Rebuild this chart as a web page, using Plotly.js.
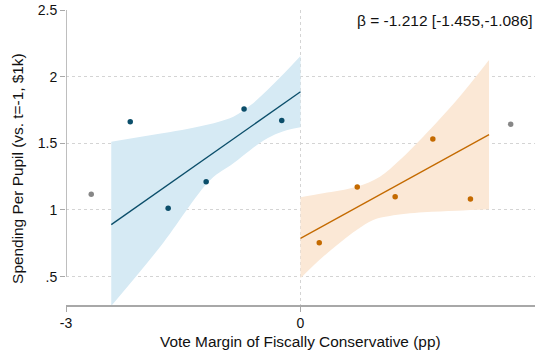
<!DOCTYPE html>
<html>
<head>
<meta charset="utf-8">
<script src="https://cdn.plot.ly/plotly-3.0.1.min.js"></script>
<style>html,body{margin:0;padding:0;background:#fff;}#chart{width:535px;height:355px;}</style>
</head>
<body>
<div id="chart"></div>
<script>
// Binned points left of cutoff (inside bandwidth)
const leftX = [-2.178, -1.693, -1.207, -0.722, -0.240];
const leftY = [1.662, 1.012, 1.212, 1.757, 1.672];
// Binned points right of cutoff (inside bandwidth)
const rightX = [0.240, 0.726, 1.211, 1.693, 2.174];
const rightY = [0.754, 1.172, 1.099, 1.532, 1.082];
// Points outside bandwidth
const outX = [-2.677, 2.689];
const outY = [1.117, 1.643];
// Linear fits
const leftFitX = [-2.421, 0];
const leftFitY = [0.890, 1.887];
const rightFitX = [0, 2.412];
const rightFitY = [0.787, 1.565];
// Confidence bands
const leftUpX = [-2.421, -1.923, -1.282, -0.859, -0.641, -0.423, -0.218, 0];
const leftUpY = [1.512, 1.560, 1.628, 1.700, 1.785, 1.900, 2.020, 2.155];
const leftLoX = [-2.421, -1.795, -1.154, -0.859, -0.641, -0.423, -0.218, 0];
const leftLoY = [0.280, 0.724, 1.225, 1.350, 1.450, 1.537, 1.590, 1.620];
const rightUpX = [0, 0.291, 0.718, 1.016, 1.271, 1.570, 2.000, 2.412];
const rightUpY = [1.095, 1.125, 1.174, 1.250, 1.375, 1.550, 1.825, 2.125];
const rightLoX = [0, 0.291, 0.718, 0.930, 1.143, 1.570, 2.000, 2.412];
const rightLoY = [0.487, 0.650, 0.850, 0.925, 0.955, 0.982, 0.994, 1.005];
// Ticks
const yTickVals = [0.5, 1, 1.5, 2, 2.5];
const yTickText = [".5", "1", "1.5", "2", "2.5"];
const xTickVals = [-3, 0, 3];
const xTickText = ["-3", "0", "3"];
const betaText = "β = -1.212 [-1.455,-1.086]";

const blueFill = "rgb(214,234,244)";
const orangeFill = "rgb(251,232,214)";
const blue = "rgb(11,78,106)";
const orange = "rgb(196,106,0)";
const gray = "rgb(135,135,135)";

const smooth = {width: 0, shape: "spline", smoothing: 1};
const traces = [
  {x: leftLoX, y: leftLoY, type: "scatter", mode: "lines", line: smooth, hoverinfo: "skip"},
  {x: leftUpX, y: leftUpY, type: "scatter", mode: "lines", fill: "tonexty", fillcolor: blueFill, line: smooth, hoverinfo: "skip"},
  {x: rightLoX, y: rightLoY, type: "scatter", mode: "lines", line: smooth, hoverinfo: "skip"},
  {x: rightUpX, y: rightUpY, type: "scatter", mode: "lines", fill: "tonexty", fillcolor: orangeFill, line: smooth, hoverinfo: "skip"},
  {x: leftFitX, y: leftFitY, type: "scatter", mode: "lines", line: {color: blue, width: 1.3}},
  {x: rightFitX, y: rightFitY, type: "scatter", mode: "lines", line: {color: orange, width: 1.3}},
  {x: leftX, y: leftY, type: "scatter", mode: "markers", marker: {color: blue, size: 5.5}},
  {x: rightX, y: rightY, type: "scatter", mode: "markers", marker: {color: orange, size: 5.5}},
  {x: outX, y: outY, type: "scatter", mode: "markers", marker: {color: gray, size: 5.5}}
];

const fontFam = "Liberation Sans, Arial, Helvetica, sans-serif";
const layout = {
  width: 535, height: 355,
  margin: {l: 66, r: 0, t: 10, b: 50},
  paper_bgcolor: "#fff", plot_bgcolor: "#fff",
  showlegend: false,
  font: {family: fontFam, size: 14, color: "#111"},
  xaxis: {
    range: [-3, 3], tickvals: xTickVals, ticktext: xTickText,
    showgrid: true, gridcolor: "#d4d4d4", griddash: "dot", gridwidth: 1,
    zeroline: false, showline: true, linecolor: "#a8a8a8", linewidth: 1.5,
    ticks: "outside", ticklen: 5, tickcolor: "#a8a8a8", tickfont: {size: 14, family: fontFam, color: "#111"}
  },
  yaxis: {
    range: [0.287, 2.5], tickvals: yTickVals, ticktext: yTickText,
    showgrid: true, gridcolor: "#d4d4d4", griddash: "dot", gridwidth: 1,
    zeroline: false, showline: false,
    ticks: "outside", ticklen: 5, tickcolor: "#a8a8a8", tickfont: {size: 14, family: fontFam, color: "#111"}
  },
  shapes: [
    {type: "line", xref: "x", yref: "y", x0: -3, x1: -3, y0: 0.5, y1: 2.5, line: {color: "#a8a8a8", width: 1.5}}
  ],
  annotations: [
    {text: betaText, xref: "paper", yref: "paper", x: 0.999, y: 0.966, xanchor: "right", yanchor: "middle", showarrow: false, font: {size: 15.5, family: fontFam, color: "#111"}},
    {text: "Vote Margin of Fiscally Conservative (pp)", xref: "paper", yref: "paper", x: 0.5, y: -0.125, xanchor: "center", yanchor: "middle", showarrow: false, font: {size: 15.4, family: fontFam, color: "#111"}},
    {text: "Spending Per Pupil (vs. t=-1, $1k)", xref: "paper", yref: "paper", x: -0.105, y: 0.464, xanchor: "center", yanchor: "middle", textangle: -90, showarrow: false, font: {size: 15.4, family: fontFam, color: "#111"}}
  ]
};
Plotly.newPlot("chart", traces, layout, {displayModeBar: false, staticPlot: true});
</script>
</body>
</html>
